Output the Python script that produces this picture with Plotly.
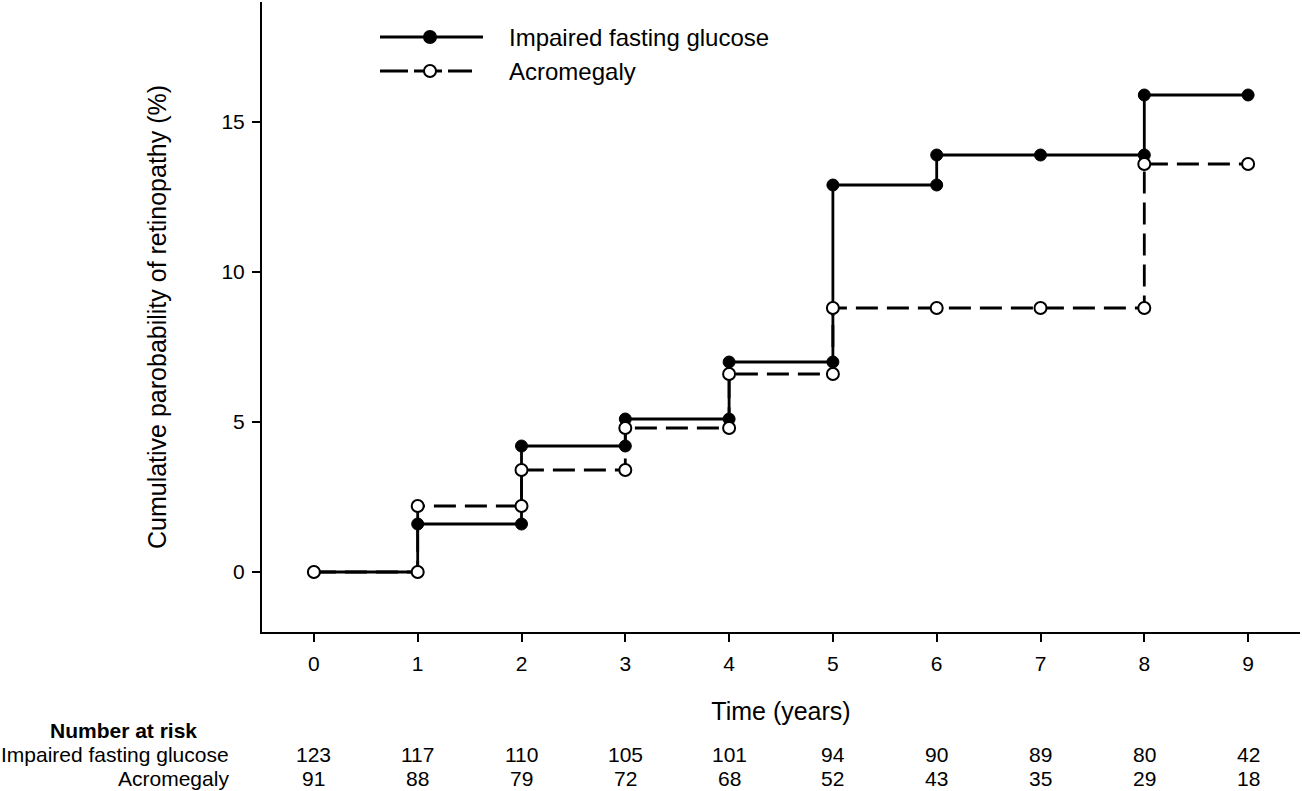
import plotly.graph_objects as go

# ---- data ----
years = [0, 1, 2, 3, 4, 5, 6, 7, 8, 9]
ifg_x = [0, 1, 1, 2, 2, 3, 3, 4, 4, 5, 5, 6, 6, 7, 8, 8, 9]
ifg_y = [0, 0, 1.6, 1.6, 4.2, 4.2, 5.1, 5.1, 7.0, 7.0, 12.9, 12.9, 13.9, 13.9, 13.9, 15.9, 15.9]
acro_x = [0, 1, 1, 2, 2, 3, 3, 4, 4, 5, 5, 6, 7, 8, 8, 9]
acro_y = [0, 0, 2.2, 2.2, 3.4, 3.4, 4.8, 4.8, 6.6, 6.6, 8.8, 8.8, 8.8, 8.8, 13.6, 13.6]
risk_ifg = [123, 117, 110, 105, 101, 94, 90, 89, 80, 42]
risk_acro = [91, 88, 79, 72, 68, 52, 43, 35, 29, 18]
series_names = ["Impaired fasting glucose", "Acromegaly"]
y_ticks = [0, 5, 10, 15]

FONT = "Liberation Sans, Arial, sans-serif"
DASH = "22px,9px"

fig = go.Figure()
fig.add_trace(go.Scatter(
    x=ifg_x, y=ifg_y, mode="lines+markers", name=series_names[0],
    line=dict(color="black", width=2.8),
    marker=dict(symbol="circle", size=12, color="black", line=dict(color="black", width=1)),
    showlegend=False, cliponaxis=False))
fig.add_trace(go.Scatter(
    x=acro_x, y=acro_y, mode="lines+markers", name=series_names[1],
    line=dict(color="black", width=2.8, dash=DASH),
    marker=dict(symbol="circle", size=12, color="white", line=dict(color="black", width=2)),
    showlegend=False, cliponaxis=False))

L, R, T, B = 262, 2, 2, 159
W, H = 1302, 791
pw, ph = W - L - R, H - T - B

def px(xp):
    return (xp - L) / pw

def py(yp):
    return (H - B - yp) / ph

shapes = []
annotations = []
# manual legend
leg_rows = [(37, 483, "solid", "black", series_names[0]),
            (71, 472, "28px,6px", "white", series_names[1])]
for ypix, xend, dash, fill, name in leg_rows:
    shapes.append(dict(type="line", xref="paper", yref="paper",
                       x0=px(380), x1=px(xend), y0=py(ypix), y1=py(ypix),
                       line=dict(color="black", width=2.8, dash=dash)))
    shapes.append(dict(type="circle", xref="paper", yref="paper",
                       xsizemode="pixel", ysizemode="pixel",
                       xanchor=px(430), yanchor=py(ypix),
                       x0=-6, x1=6, y0=-6, y1=6,
                       fillcolor=fill, line=dict(color="black", width=2)))
    annotations.append(dict(xref="paper", yref="paper", x=px(507), y=py(ypix),
                            text=name, showarrow=False, xanchor="left", yanchor="middle",
                            font=dict(family=FONT, size=24, color="black")))

# number at risk table
annotations.append(dict(xref="paper", yref="paper", x=px(123), y=py(731),
                        text="<b>Number at risk</b>", showarrow=False, xanchor="center",
                        yanchor="middle", font=dict(family=FONT, size=21, color="black")))
annotations.append(dict(xref="paper", yref="paper", x=px(231), y=py(754),
                        text=series_names[0], showarrow=False, xanchor="right",
                        yanchor="middle", font=dict(family=FONT, size=21, color="black")))
annotations.append(dict(xref="paper", yref="paper", x=px(231), y=py(778),
                        text=series_names[1], showarrow=False, xanchor="right",
                        yanchor="middle", font=dict(family=FONT, size=21, color="black")))
for yr, a, b in zip(years, risk_ifg, risk_acro):
    annotations.append(dict(xref="x", yref="paper", x=yr, y=py(754), text=str(a),
                            showarrow=False, xanchor="center", yanchor="middle",
                            font=dict(family=FONT, size=21, color="black")))
    annotations.append(dict(xref="x", yref="paper", x=yr, y=py(778), text=str(b),
                            showarrow=False, xanchor="center", yanchor="middle",
                            font=dict(family=FONT, size=21, color="black")))

fig.update_layout(
    width=W, height=H,
    margin=dict(l=L, r=R, t=T, b=B, pad=0),
    paper_bgcolor="white", plot_bgcolor="white",
    showlegend=False,
    shapes=shapes, annotations=annotations,
    font=dict(family=FONT, color="black"),
    xaxis=dict(range=[-0.5, 9.5], tickvals=years, ticks="outside", ticklen=8, tickwidth=2,
               tickcolor="black", showline=True, linecolor="black", linewidth=2,
               showgrid=False, zeroline=False, tickfont=dict(size=21, family=FONT),
               ticklabelstandoff=4,
               title=dict(text="Time (years)", font=dict(size=25, family=FONT), standoff=28)),
    yaxis=dict(range=[-2, 19], tickvals=y_ticks, ticks="outside", ticklen=8, tickwidth=2,
               tickcolor="black", showline=True, linecolor="black", linewidth=2,
               showgrid=False, zeroline=False, tickfont=dict(size=21, family=FONT),
               ticklabelstandoff=3,
               title=dict(text="Cumulative parobability of retinopathy (%)",
                          font=dict(size=25, family=FONT), standoff=48)),
)

fig.write_html("out.html", config={"displayModeBar": False},
               post_script="document.body.style.margin='0px';")
